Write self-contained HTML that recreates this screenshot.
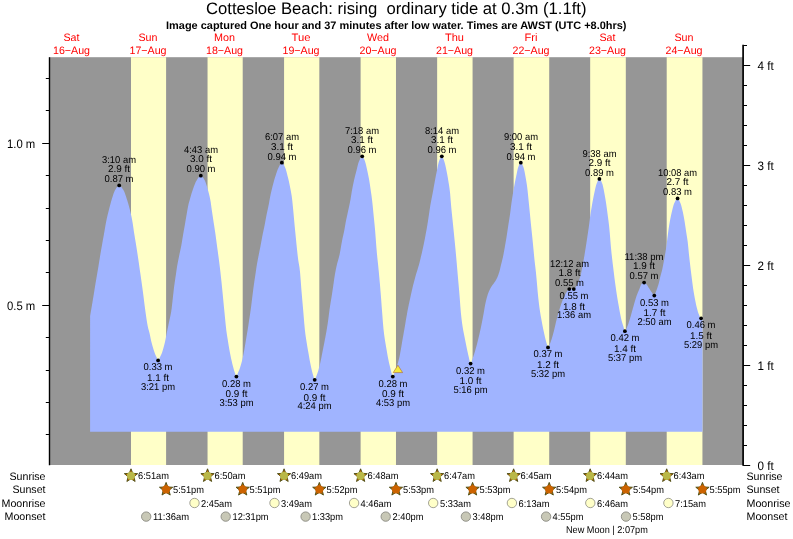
<!DOCTYPE html><html><head><meta charset="utf-8"><title>Cottesloe Beach tide</title>
<style>html,body{margin:0;padding:0;background:#fff}svg{display:block}text{font-family:"Liberation Sans",sans-serif;fill:#000;white-space:pre;text-rendering:geometricPrecision}.d{fill:#ff0000}.b{font-weight:bold}</style></head><body>
<svg width="793" height="539" viewBox="0 0 793 539">
<rect width="793" height="539" fill="#fff"/>
<rect x="49" y="57.2" width="694" height="407.8" fill="#969696"/>
<rect x="131.00" y="57.2" width="35.10" height="407.8" fill="#ffffc8"/>
<rect x="207.54" y="57.2" width="35.16" height="407.8" fill="#ffffc8"/>
<rect x="284.07" y="57.2" width="35.26" height="407.8" fill="#ffffc8"/>
<rect x="360.61" y="57.2" width="35.37" height="407.8" fill="#ffffc8"/>
<rect x="437.15" y="57.2" width="35.42" height="407.8" fill="#ffffc8"/>
<rect x="513.63" y="57.2" width="35.58" height="407.8" fill="#ffffc8"/>
<rect x="590.17" y="57.2" width="35.64" height="407.8" fill="#ffffc8"/>
<rect x="666.70" y="57.2" width="35.74" height="407.8" fill="#ffffc8"/>
<path d="M90.1,431.7 L90.10,316.00 L90.70,312.52 L91.30,309.00 L91.90,305.46 L92.50,301.89 L93.10,298.30 L93.70,294.64 L94.30,290.94 L94.90,287.25 L95.50,283.60 L96.10,280.03 L96.70,276.50 L97.30,273.00 L97.90,269.47 L98.50,265.90 L99.10,262.22 L99.70,258.49 L100.30,254.79 L100.90,251.17 L101.50,247.71 L102.10,244.38 L102.70,241.11 L103.30,237.86 L103.90,234.56 L104.50,231.12 L105.10,227.56 L105.70,224.08 L106.30,220.89 L106.90,218.08 L107.50,215.50 L108.10,213.07 L108.70,210.70 L109.30,208.32 L109.90,205.96 L110.50,203.69 L111.10,201.54 L111.70,199.55 L112.30,197.59 L112.90,195.66 L113.50,193.84 L114.10,192.21 L114.70,190.83 L115.30,189.77 L115.90,188.80 L116.50,187.86 L117.10,187.01 L117.70,186.30 L118.30,185.77 L118.90,185.47 L119.50,185.45 L120.10,185.71 L120.70,186.21 L121.30,186.90 L121.90,187.74 L122.50,188.66 L123.10,189.62 L123.70,190.62 L124.30,191.86 L124.90,193.35 L125.50,195.01 L126.10,196.80 L126.70,198.65 L127.30,200.51 L127.90,202.46 L128.50,204.55 L129.10,206.76 L129.70,209.09 L130.30,211.53 L130.90,214.09 L131.50,216.85 L132.10,219.87 L132.70,223.33 L133.30,227.29 L133.90,231.38 L134.50,235.25 L135.10,238.93 L135.70,242.56 L136.30,246.22 L136.90,250.00 L137.50,253.93 L138.10,257.97 L138.70,262.08 L139.30,266.23 L139.90,270.39 L140.50,274.54 L141.10,278.71 L141.70,282.92 L142.30,287.23 L142.90,291.65 L143.50,296.36 L144.10,301.24 L144.70,306.04 L145.30,310.50 L145.90,314.74 L146.50,318.88 L147.10,322.72 L147.70,326.04 L148.30,328.63 L148.90,330.71 L149.50,333.04 L150.10,335.83 L150.70,338.75 L151.30,341.48 L151.90,343.84 L152.50,346.05 L153.10,348.12 L153.70,350.05 L154.30,351.84 L154.90,353.47 L155.50,354.95 L156.10,356.32 L156.70,357.62 L157.30,359.14 L157.90,360.26 L158.50,360.16 L159.10,359.13 L159.70,357.81 L160.30,356.61 L160.90,355.35 L161.50,353.96 L162.10,352.40 L162.70,350.61 L163.30,348.59 L163.90,346.37 L164.50,343.97 L165.10,341.42 L165.70,338.47 L166.30,335.30 L166.90,332.20 L167.50,329.28 L168.10,326.40 L168.70,323.54 L169.30,320.70 L169.90,318.07 L170.50,315.35 L171.10,312.21 L171.70,308.10 L172.30,302.77 L172.90,297.16 L173.50,291.93 L174.10,286.85 L174.70,282.44 L175.30,278.48 L175.90,274.52 L176.50,270.32 L177.10,266.30 L177.70,262.90 L178.30,259.91 L178.90,257.00 L179.50,254.12 L180.10,251.32 L180.70,248.46 L181.30,245.40 L181.90,241.96 L182.50,238.29 L183.10,234.73 L183.70,231.36 L184.30,228.03 L184.90,224.62 L185.50,221.04 L186.10,217.43 L186.70,213.95 L187.30,210.46 L187.90,207.16 L188.50,204.36 L189.10,202.07 L189.70,199.94 L190.30,197.79 L190.90,195.66 L191.50,193.61 L192.10,191.68 L192.70,189.92 L193.30,188.22 L193.90,186.56 L194.50,184.97 L195.10,183.47 L195.70,182.12 L196.30,180.93 L196.90,179.95 L197.50,179.02 L198.10,178.11 L198.70,177.27 L199.30,176.55 L199.90,176.02 L200.50,175.74 L201.10,175.75 L201.70,176.06 L202.30,176.62 L202.90,177.38 L203.50,178.28 L204.10,179.26 L204.70,180.27 L205.30,181.54 L205.90,183.15 L206.50,185.01 L207.10,187.03 L207.70,189.14 L208.30,191.27 L208.90,193.50 L209.50,195.97 L210.10,198.75 L210.70,202.09 L211.30,206.38 L211.90,210.68 L212.50,214.69 L213.10,218.67 L213.70,222.64 L214.30,226.55 L214.90,230.51 L215.50,234.60 L216.10,238.94 L216.70,243.48 L217.30,248.00 L217.90,252.37 L218.50,256.74 L219.10,261.30 L219.70,266.01 L220.30,271.00 L220.90,276.38 L221.50,282.07 L222.10,287.94 L222.70,293.91 L223.30,300.14 L223.90,306.41 L224.50,312.53 L225.10,318.79 L225.70,324.87 L226.30,330.22 L226.90,334.48 L227.50,338.16 L228.10,341.90 L228.70,345.66 L229.30,349.20 L229.90,352.45 L230.50,355.52 L231.10,358.39 L231.70,361.08 L232.30,363.65 L232.90,366.08 L233.50,368.34 L234.10,370.41 L234.70,372.27 L235.30,373.99 L235.90,375.83 L236.50,376.55 L237.10,375.25 L237.70,373.40 L238.30,372.02 L238.90,370.66 L239.50,369.13 L240.10,367.40 L240.70,365.52 L241.30,363.49 L241.90,361.28 L242.50,358.88 L243.10,356.11 L243.70,353.01 L244.30,349.75 L244.90,346.35 L245.50,342.73 L246.10,339.10 L246.70,335.58 L247.30,332.06 L247.90,328.37 L248.50,324.41 L249.10,320.34 L249.70,316.38 L250.30,312.46 L250.90,308.26 L251.50,303.56 L252.10,298.62 L252.70,293.82 L253.30,289.07 L253.90,284.58 L254.50,280.49 L255.10,276.54 L255.70,272.45 L256.30,268.30 L256.90,264.51 L257.50,261.17 L258.10,258.04 L258.70,254.94 L259.30,251.93 L259.90,248.95 L260.50,245.92 L261.10,242.75 L261.70,239.51 L262.30,236.32 L262.90,233.33 L263.50,230.48 L264.10,227.65 L264.70,224.69 L265.30,221.50 L265.90,218.23 L266.50,215.10 L267.10,212.24 L267.70,209.53 L268.30,206.74 L268.90,203.65 L269.50,200.14 L270.10,196.90 L270.70,194.06 L271.30,191.41 L271.90,188.91 L272.50,186.51 L273.10,184.19 L273.70,181.95 L274.30,179.83 L274.90,177.83 L275.50,175.95 L276.10,174.09 L276.70,172.29 L277.30,170.59 L277.90,169.04 L278.50,167.69 L279.10,166.53 L279.70,165.35 L280.30,164.25 L280.90,163.36 L281.50,162.83 L282.10,162.79 L282.70,163.23 L283.30,164.04 L283.90,165.10 L284.50,166.29 L285.10,167.53 L285.70,169.12 L286.30,171.08 L286.90,173.29 L287.50,175.63 L288.10,178.00 L288.70,180.57 L289.30,183.35 L289.90,186.29 L290.50,189.30 L291.10,192.41 L291.70,196.02 L292.30,200.72 L292.90,206.79 L293.50,213.11 L294.10,219.75 L294.70,226.24 L295.30,232.29 L295.90,238.36 L296.50,244.43 L297.10,250.23 L297.70,255.76 L298.30,260.40 L298.90,263.88 L299.50,267.44 L300.10,272.63 L300.70,280.22 L301.30,288.40 L301.90,295.62 L302.50,302.52 L303.10,309.36 L303.70,316.49 L304.30,323.77 L304.90,330.11 L305.50,334.91 L306.10,338.93 L306.70,342.74 L307.30,346.40 L307.90,349.90 L308.50,353.36 L309.10,356.84 L309.70,360.20 L310.30,363.31 L310.90,366.27 L311.50,369.07 L312.10,371.62 L312.70,373.83 L313.30,375.77 L313.90,377.88 L314.50,379.71 L315.10,379.36 L315.70,377.80 L316.30,376.16 L316.90,374.65 L317.50,373.00 L318.10,371.13 L318.70,369.06 L319.30,366.82 L319.90,364.42 L320.50,361.86 L321.10,358.98 L321.70,355.85 L322.30,352.71 L322.90,349.69 L323.50,346.68 L324.10,343.64 L324.70,340.56 L325.30,337.50 L325.90,334.36 L326.50,331.00 L327.10,327.37 L327.70,323.46 L328.30,319.27 L328.90,314.48 L329.50,309.72 L330.10,305.70 L330.70,302.06 L331.30,298.50 L331.90,294.75 L332.50,290.74 L333.10,286.65 L333.70,282.53 L334.30,278.36 L334.90,274.62 L335.50,271.33 L336.10,268.31 L336.70,265.54 L337.30,263.07 L337.90,260.90 L338.50,258.82 L339.10,256.61 L339.70,254.03 L340.30,250.87 L340.90,247.30 L341.50,243.70 L342.10,240.40 L342.70,237.56 L343.30,234.92 L343.90,232.24 L344.50,229.25 L345.10,225.84 L345.70,222.35 L346.30,219.20 L346.90,216.39 L347.50,213.72 L348.10,211.03 L348.70,208.24 L349.30,205.48 L349.90,202.60 L350.50,199.44 L351.10,195.72 L351.70,191.97 L352.30,188.68 L352.90,185.58 L353.50,182.68 L354.10,179.97 L354.70,177.45 L355.30,175.05 L355.90,172.73 L356.50,170.42 L357.10,168.00 L357.70,165.58 L358.30,163.37 L358.90,161.57 L359.50,160.21 L360.10,158.91 L360.70,157.75 L361.30,156.85 L361.90,156.33 L362.50,156.35 L363.10,157.01 L363.70,158.15 L364.30,159.58 L364.90,161.10 L365.50,162.94 L366.10,165.31 L366.70,167.98 L367.30,170.75 L367.90,173.50 L368.50,176.43 L369.10,179.60 L369.70,183.13 L370.30,187.16 L370.90,191.40 L371.50,195.61 L372.10,200.16 L372.70,205.71 L373.30,211.99 L373.90,218.07 L374.50,223.93 L375.10,230.30 L375.70,238.07 L376.30,246.32 L376.90,253.25 L377.50,259.13 L378.10,264.74 L378.70,270.75 L379.30,277.17 L379.90,283.86 L380.50,290.90 L381.10,298.60 L381.70,306.63 L382.30,314.35 L382.90,322.14 L383.50,329.08 L384.10,334.28 L384.70,338.44 L385.30,342.26 L385.90,345.77 L386.50,349.20 L387.10,352.70 L387.70,356.13 L388.30,359.30 L388.90,362.15 L389.50,364.79 L390.10,367.32 L390.70,369.82 L391.30,372.32 L391.90,374.45 L392.50,376.28 L393.10,376.31 L393.70,374.81 L394.30,373.16 L394.90,371.73 L395.50,370.21 L396.10,368.56 L396.70,366.82 L397.30,364.99 L397.90,363.01 L398.50,360.86 L399.10,358.46 L399.70,355.64 L400.30,352.48 L400.90,349.20 L401.50,345.73 L402.10,342.08 L402.70,338.53 L403.30,335.15 L403.90,331.82 L404.50,328.42 L405.10,324.89 L405.70,321.32 L406.30,317.85 L406.90,314.43 L407.50,311.11 L408.10,307.99 L408.70,305.04 L409.30,302.22 L409.90,299.47 L410.50,296.76 L411.10,294.04 L411.70,291.33 L412.30,288.67 L412.90,286.12 L413.50,283.70 L414.10,281.39 L414.70,279.15 L415.30,276.97 L415.90,274.85 L416.50,272.84 L417.10,270.91 L417.70,268.99 L418.30,267.02 L418.90,264.92 L419.50,262.66 L420.10,260.29 L420.70,257.83 L421.30,255.31 L421.90,252.71 L422.50,250.04 L423.10,247.28 L423.70,244.44 L424.30,241.50 L424.90,238.45 L425.50,235.30 L426.10,232.07 L426.70,228.72 L427.30,225.20 L427.90,221.40 L428.50,217.41 L429.10,213.45 L429.70,209.42 L430.30,205.59 L430.90,202.20 L431.50,199.07 L432.10,196.06 L432.70,193.00 L433.30,189.74 L433.90,186.33 L434.50,182.93 L435.10,179.71 L435.70,176.60 L436.30,173.60 L436.90,170.72 L437.50,167.75 L438.10,164.84 L438.70,162.35 L439.30,160.58 L439.90,159.04 L440.50,157.69 L441.10,156.70 L441.70,156.27 L442.30,156.60 L442.90,157.66 L443.50,159.16 L444.10,160.83 L444.70,162.68 L445.30,165.07 L445.90,167.81 L446.50,170.71 L447.10,173.75 L447.70,177.11 L448.30,180.69 L448.90,184.32 L449.50,188.24 L450.10,193.36 L450.70,200.79 L451.30,207.65 L451.90,213.63 L452.50,219.44 L453.10,225.20 L453.70,231.24 L454.30,237.31 L454.90,243.35 L455.50,249.54 L456.10,255.91 L456.70,262.64 L457.30,269.66 L457.90,276.72 L458.50,283.60 L459.10,290.32 L459.70,297.52 L460.30,305.72 L460.90,313.00 L461.50,318.59 L462.10,323.35 L462.70,327.35 L463.30,330.69 L463.90,333.69 L464.50,336.72 L465.10,339.81 L465.70,342.86 L466.30,345.82 L466.90,348.67 L467.50,351.43 L468.10,354.15 L468.70,356.86 L469.30,359.62 L469.90,361.94 L470.50,363.57 L471.10,362.86 L471.70,360.97 L472.30,359.38 L472.90,357.80 L473.50,356.10 L474.10,354.26 L474.70,352.30 L475.30,350.25 L475.90,348.12 L476.50,345.93 L477.10,343.63 L477.70,341.21 L478.30,338.72 L478.90,336.20 L479.50,333.67 L480.10,331.10 L480.70,328.43 L481.30,325.62 L481.90,322.60 L482.50,319.43 L483.10,316.17 L483.70,312.90 L484.30,309.43 L484.90,306.03 L485.50,303.07 L486.10,300.43 L486.70,298.07 L487.30,295.99 L487.90,294.11 L488.50,292.44 L489.10,291.00 L489.70,289.72 L490.30,288.54 L490.90,287.47 L491.50,286.48 L492.10,285.59 L492.70,284.79 L493.30,284.01 L493.90,283.22 L494.50,282.35 L495.10,281.42 L495.70,280.47 L496.30,279.45 L496.90,278.33 L497.50,277.06 L498.10,275.57 L498.70,273.87 L499.30,271.96 L499.90,269.64 L500.50,267.04 L501.10,264.50 L501.70,262.20 L502.30,259.86 L502.90,257.16 L503.50,254.16 L504.10,250.96 L504.70,247.64 L505.30,244.27 L505.90,240.80 L506.50,237.17 L507.10,233.35 L507.70,229.25 L508.30,225.20 L508.90,221.46 L509.50,217.76 L510.10,213.65 L510.70,208.89 L511.30,204.27 L511.90,200.05 L512.50,196.13 L513.10,192.45 L513.70,188.97 L514.30,185.68 L514.90,182.56 L515.50,179.59 L516.10,176.72 L516.70,173.74 L517.30,170.81 L517.90,168.32 L518.50,166.60 L519.10,165.12 L519.70,163.86 L520.30,163.00 L520.90,162.75 L521.50,163.17 L522.10,164.10 L522.70,165.39 L523.30,166.85 L523.90,168.70 L524.50,171.36 L525.10,174.49 L525.70,177.74 L526.30,181.19 L526.90,185.11 L527.50,189.77 L528.10,195.45 L528.70,201.41 L529.30,207.53 L529.90,213.59 L530.50,219.67 L531.10,225.69 L531.70,231.44 L532.30,237.28 L532.90,243.35 L533.50,249.62 L534.10,256.01 L534.70,261.74 L535.30,266.82 L535.90,272.05 L536.50,278.20 L537.10,285.05 L537.70,291.89 L538.30,298.00 L538.90,303.25 L539.50,307.96 L540.10,312.09 L540.70,315.74 L541.30,319.10 L541.90,322.35 L542.50,325.44 L543.10,328.40 L543.70,331.24 L544.30,334.00 L544.90,336.67 L545.50,339.20 L546.10,341.57 L546.70,343.76 L547.30,345.77 L547.90,347.34 L548.50,347.06 L549.10,345.83 L549.70,344.40 L550.30,342.95 L550.90,341.29 L551.50,339.48 L552.10,337.50 L552.70,335.39 L553.30,333.17 L553.90,330.88 L554.50,328.49 L555.10,325.91 L555.70,323.30 L556.30,320.79 L556.90,318.47 L557.50,316.23 L558.10,314.07 L558.70,311.99 L559.30,310.00 L559.90,308.07 L560.50,306.19 L561.10,304.37 L561.70,302.64 L562.30,301.02 L562.90,299.51 L563.50,298.05 L564.10,296.65 L564.70,295.34 L565.30,294.15 L565.90,293.11 L566.50,292.19 L567.10,291.24 L567.70,290.36 L568.30,289.65 L568.90,289.20 L569.50,289.10 L570.10,289.10 L570.70,289.10 L571.30,289.10 L571.90,289.10 L572.50,289.10 L573.10,289.10 L573.70,289.10 L574.30,288.94 L574.90,288.40 L575.50,287.57 L576.10,286.54 L576.70,285.42 L577.30,284.30 L577.90,283.11 L578.50,281.71 L579.10,280.13 L579.70,278.35 L580.30,276.39 L580.90,274.14 L581.50,271.35 L582.10,268.24 L582.70,265.06 L583.30,261.87 L583.90,258.51 L584.50,255.00 L585.10,251.27 L585.70,247.46 L586.30,243.64 L586.90,239.79 L587.50,235.87 L588.10,231.85 L588.70,227.71 L589.30,223.25 L589.90,218.53 L590.50,214.08 L591.10,210.21 L591.70,206.65 L592.30,203.30 L592.90,200.08 L593.50,197.00 L594.10,194.11 L594.70,191.36 L595.30,188.57 L595.90,185.99 L596.50,183.89 L597.10,182.41 L597.70,181.08 L598.30,179.95 L598.90,179.18 L599.50,178.95 L600.10,179.31 L600.70,180.14 L601.30,181.29 L601.90,182.64 L602.50,184.25 L603.10,186.66 L603.70,189.58 L604.30,192.69 L604.90,195.90 L605.50,199.47 L606.10,203.30 L606.70,207.44 L607.30,211.89 L607.90,216.40 L608.50,220.99 L609.10,226.07 L609.70,232.30 L610.30,239.61 L610.90,246.81 L611.50,252.90 L612.10,258.33 L612.70,263.41 L613.30,268.35 L613.90,273.30 L614.50,278.14 L615.10,282.76 L615.70,287.12 L616.30,291.27 L616.90,295.20 L617.50,298.92 L618.10,302.46 L618.70,305.85 L619.30,309.14 L619.90,312.41 L620.50,315.57 L621.10,318.48 L621.70,320.99 L622.30,323.08 L622.90,324.94 L623.50,326.80 L624.10,329.17 L624.70,331.05 L625.30,331.00 L625.90,330.01 L626.50,328.56 L627.10,327.04 L627.70,325.56 L628.30,323.88 L628.90,322.06 L629.50,320.19 L630.10,318.21 L630.70,316.13 L631.30,313.97 L631.90,311.80 L632.50,309.64 L633.10,307.56 L633.70,305.46 L634.30,303.34 L634.90,301.23 L635.50,299.18 L636.10,297.25 L636.70,295.48 L637.30,293.90 L637.90,292.46 L638.50,291.10 L639.10,289.73 L639.70,288.20 L640.30,286.52 L640.90,285.01 L641.50,284.00 L642.10,283.50 L642.70,283.08 L643.30,282.78 L643.90,282.63 L644.50,282.69 L645.10,283.04 L645.70,283.57 L646.30,284.19 L646.90,284.84 L647.50,285.68 L648.10,286.66 L648.70,287.66 L649.30,288.61 L649.90,289.54 L650.50,290.47 L651.10,291.38 L651.70,292.24 L652.30,293.21 L652.90,294.22 L653.50,295.07 L654.10,295.54 L654.70,295.21 L655.30,293.65 L655.90,291.77 L656.50,290.18 L657.10,288.55 L657.70,286.81 L658.30,284.92 L658.90,282.77 L659.50,280.20 L660.10,277.54 L660.70,275.16 L661.30,273.05 L661.90,270.83 L662.50,268.20 L663.10,265.21 L663.70,262.00 L664.30,258.67 L664.90,255.34 L665.50,251.97 L666.10,248.32 L666.70,244.04 L667.30,239.04 L667.90,234.14 L668.50,229.81 L669.10,225.75 L669.70,222.15 L670.30,218.89 L670.90,215.90 L671.50,213.20 L672.10,210.64 L672.70,208.17 L673.30,205.92 L673.90,204.06 L674.50,202.68 L675.10,201.45 L675.70,200.32 L676.30,199.36 L676.90,198.69 L677.50,198.39 L678.10,198.60 L678.70,199.37 L679.30,200.54 L679.90,201.91 L680.50,203.34 L681.10,205.07 L681.70,207.21 L682.30,209.65 L682.90,212.29 L683.50,215.15 L684.10,218.47 L684.70,222.07 L685.30,225.88 L685.90,230.01 L686.50,234.04 L687.10,237.64 L687.70,241.79 L688.30,247.51 L688.90,253.81 L689.50,259.37 L690.10,264.49 L690.70,269.40 L691.30,274.20 L691.90,279.04 L692.50,283.77 L693.10,288.13 L693.70,291.95 L694.30,295.49 L694.90,298.80 L695.50,301.86 L696.10,304.67 L696.70,307.21 L697.30,309.57 L697.90,311.72 L698.50,313.55 L699.10,315.01 L699.70,316.44 L700.30,317.61 L700.90,318.23 L701.50,318.24 L702.10,318.03 L702.55,317.60 L702.55,431.7 Z" fill="#a0b4ff"/>
<g stroke="#000" fill="none">
<path d="M49.5,57.2V465.3" stroke-width="1.4"/>
<path d="M743.1,44.8V465.8" stroke-width="1.7"/>
</g><g stroke="#000" stroke-width="1" fill="none">
<path d="M45.8,434.5H49.5"/>
<path d="M45.8,402.5H49.5"/>
<path d="M45.8,370.5H49.5"/>
<path d="M45.8,337.5H49.5"/>
<path d="M42.2,305.5H49.5"/>
<path d="M45.8,272.5H49.5"/>
<path d="M45.8,240.5H49.5"/>
<path d="M45.8,208.5H49.5"/>
<path d="M45.8,175.5H49.5"/>
<path d="M42.2,143.5H49.5"/>
<path d="M45.8,110.5H49.5"/>
<path d="M45.8,78.5H49.5"/>
<path d="M743.2,465.5H750.2"/>
<path d="M743.2,445.5H747"/>
<path d="M743.2,425.5H747"/>
<path d="M743.2,405.5H747"/>
<path d="M743.2,385.5H747"/>
<path d="M743.2,365.5H750.2"/>
<path d="M743.2,345.5H747"/>
<path d="M743.2,325.5H747"/>
<path d="M743.2,305.5H747"/>
<path d="M743.2,285.5H747"/>
<path d="M743.2,265.5H750.2"/>
<path d="M743.2,245.5H747"/>
<path d="M743.2,225.5H747"/>
<path d="M743.2,205.5H747"/>
<path d="M743.2,185.5H747"/>
<path d="M743.2,165.5H750.2"/>
<path d="M743.2,145.5H747"/>
<path d="M743.2,125.5H747"/>
<path d="M743.2,105.5H747"/>
<path d="M743.2,85.5H747"/>
<path d="M743.2,65.5H750.2"/>
<path d="M743.2,45.5H747"/>
</g>
<text x="206.0" y="14.0" font-size="16.67" textLength="380.5" lengthAdjust="spacingAndGlyphs" xml:space="preserve">Cottesloe Beach: rising  ordinary tide at 0.3m (1.1ft)</text>
<text class="b" x="166.0" y="29.0" font-size="10.9" textLength="460.5" lengthAdjust="spacingAndGlyphs">Image captured One hour and 37 minutes after low water. Times are AWST (UTC +8.0hrs)</text>
<text class="d" x="63.5" y="41.0" font-size="10.8" textLength="16.0" lengthAdjust="spacingAndGlyphs">Sat</text>
<text class="d" x="53.0" y="54.0" font-size="10.8" textLength="37.0" lengthAdjust="spacingAndGlyphs">16−Aug</text>
<text class="d" x="138.5" y="41.0" font-size="10.8" textLength="19.0" lengthAdjust="spacingAndGlyphs">Sun</text>
<text class="d" x="129.5" y="54.0" font-size="10.8" textLength="37.0" lengthAdjust="spacingAndGlyphs">17−Aug</text>
<text class="d" x="214.0" y="41.0" font-size="10.8" textLength="21.0" lengthAdjust="spacingAndGlyphs">Mon</text>
<text class="d" x="206.0" y="54.0" font-size="10.8" textLength="37.0" lengthAdjust="spacingAndGlyphs">18−Aug</text>
<text class="d" x="291.5" y="41.0" font-size="10.8" textLength="19.0" lengthAdjust="spacingAndGlyphs">Tue</text>
<text class="d" x="282.5" y="54.0" font-size="10.8" textLength="37.0" lengthAdjust="spacingAndGlyphs">19−Aug</text>
<text class="d" x="367.0" y="41.0" font-size="10.8" textLength="22.0" lengthAdjust="spacingAndGlyphs">Wed</text>
<text class="d" x="359.5" y="54.0" font-size="10.8" textLength="37.0" lengthAdjust="spacingAndGlyphs">20−Aug</text>
<text class="d" x="445.0" y="41.0" font-size="10.8" textLength="19.0" lengthAdjust="spacingAndGlyphs">Thu</text>
<text class="d" x="436.0" y="54.0" font-size="10.8" textLength="37.0" lengthAdjust="spacingAndGlyphs">21−Aug</text>
<text class="d" x="524.5" y="41.0" font-size="10.8" textLength="13.0" lengthAdjust="spacingAndGlyphs">Fri</text>
<text class="d" x="512.5" y="54.0" font-size="10.8" textLength="37.0" lengthAdjust="spacingAndGlyphs">22−Aug</text>
<text class="d" x="599.5" y="41.0" font-size="10.8" textLength="16.0" lengthAdjust="spacingAndGlyphs">Sat</text>
<text class="d" x="589.0" y="54.0" font-size="10.8" textLength="37.0" lengthAdjust="spacingAndGlyphs">23−Aug</text>
<text class="d" x="674.5" y="41.0" font-size="10.8" textLength="19.0" lengthAdjust="spacingAndGlyphs">Sun</text>
<text class="d" x="665.5" y="54.0" font-size="10.8" textLength="37.0" lengthAdjust="spacingAndGlyphs">24−Aug</text>
<text x="7.0" y="148.0" font-size="12.2" textLength="28.3" lengthAdjust="spacingAndGlyphs">1.0 m</text>
<text x="7.0" y="310.0" font-size="12.2" textLength="28.3" lengthAdjust="spacingAndGlyphs">0.5 m</text>
<text x="757.5" y="470.0" font-size="12.2" textLength="16.2" lengthAdjust="spacingAndGlyphs">0 ft</text>
<text x="757.5" y="370.0" font-size="12.2" textLength="16.2" lengthAdjust="spacingAndGlyphs">1 ft</text>
<text x="757.5" y="270.0" font-size="12.2" textLength="16.2" lengthAdjust="spacingAndGlyphs">2 ft</text>
<text x="757.5" y="170.0" font-size="12.2" textLength="16.2" lengthAdjust="spacingAndGlyphs">3 ft</text>
<text x="757.5" y="70.0" font-size="12.2" textLength="16.2" lengthAdjust="spacingAndGlyphs">4 ft</text>
<text x="9.5" y="480.0" font-size="10.8" textLength="36.0" lengthAdjust="spacingAndGlyphs">Sunrise</text>
<text x="746.5" y="480.0" font-size="10.8" textLength="36.0" lengthAdjust="spacingAndGlyphs">Sunrise</text>
<text x="12.5" y="493.0" font-size="10.8" textLength="33.0" lengthAdjust="spacingAndGlyphs">Sunset</text>
<text x="746.5" y="493.0" font-size="10.8" textLength="33.0" lengthAdjust="spacingAndGlyphs">Sunset</text>
<text x="1.5" y="507.0" font-size="10.8" textLength="44.0" lengthAdjust="spacingAndGlyphs">Moonrise</text>
<text x="746.5" y="507.0" font-size="10.8" textLength="44.0" lengthAdjust="spacingAndGlyphs">Moonrise</text>
<text x="4.5" y="520.0" font-size="10.8" textLength="41.0" lengthAdjust="spacingAndGlyphs">Moonset</text>
<text x="746.5" y="520.0" font-size="10.8" textLength="41.0" lengthAdjust="spacingAndGlyphs">Moonset</text>
<text x="102.0" y="163.0" font-size="9.9" textLength="34.0" lengthAdjust="spacingAndGlyphs">3:10 am</text>
<text x="108.0" y="172.0" font-size="9.9" textLength="22.0" lengthAdjust="spacingAndGlyphs">2.9 ft</text>
<text x="104.5" y="182.0" font-size="9.9" textLength="29.0" lengthAdjust="spacingAndGlyphs">0.87 m</text>
<text x="143.5" y="370.0" font-size="9.9" textLength="29.0" lengthAdjust="spacingAndGlyphs">0.33 m</text>
<text x="147.0" y="381.0" font-size="9.9" textLength="22.0" lengthAdjust="spacingAndGlyphs">1.1 ft</text>
<text x="141.0" y="390.0" font-size="9.9" textLength="34.0" lengthAdjust="spacingAndGlyphs">3:21 pm</text>
<text x="184.0" y="153.0" font-size="9.9" textLength="34.0" lengthAdjust="spacingAndGlyphs">4:43 am</text>
<text x="190.0" y="162.0" font-size="9.9" textLength="22.0" lengthAdjust="spacingAndGlyphs">3.0 ft</text>
<text x="186.5" y="172.0" font-size="9.9" textLength="29.0" lengthAdjust="spacingAndGlyphs">0.90 m</text>
<text x="222.0" y="387.0" font-size="9.9" textLength="29.0" lengthAdjust="spacingAndGlyphs">0.28 m</text>
<text x="225.5" y="397.0" font-size="9.9" textLength="22.0" lengthAdjust="spacingAndGlyphs">0.9 ft</text>
<text x="219.5" y="406.0" font-size="9.9" textLength="34.0" lengthAdjust="spacingAndGlyphs">3:53 pm</text>
<text x="265.0" y="140.0" font-size="9.9" textLength="34.0" lengthAdjust="spacingAndGlyphs">6:07 am</text>
<text x="271.0" y="150.0" font-size="9.9" textLength="22.0" lengthAdjust="spacingAndGlyphs">3.1 ft</text>
<text x="267.5" y="160.0" font-size="9.9" textLength="29.0" lengthAdjust="spacingAndGlyphs">0.94 m</text>
<text x="300.0" y="390.0" font-size="9.9" textLength="29.0" lengthAdjust="spacingAndGlyphs">0.27 m</text>
<text x="303.5" y="401.0" font-size="9.9" textLength="22.0" lengthAdjust="spacingAndGlyphs">0.9 ft</text>
<text x="297.5" y="409.0" font-size="9.9" textLength="34.0" lengthAdjust="spacingAndGlyphs">4:24 pm</text>
<text x="345.0" y="134.0" font-size="9.9" textLength="34.0" lengthAdjust="spacingAndGlyphs">7:18 am</text>
<text x="351.0" y="143.0" font-size="9.9" textLength="22.0" lengthAdjust="spacingAndGlyphs">3.1 ft</text>
<text x="347.5" y="153.0" font-size="9.9" textLength="29.0" lengthAdjust="spacingAndGlyphs">0.96 m</text>
<text x="378.5" y="387.0" font-size="9.9" textLength="29.0" lengthAdjust="spacingAndGlyphs">0.28 m</text>
<text x="382.0" y="397.0" font-size="9.9" textLength="22.0" lengthAdjust="spacingAndGlyphs">0.9 ft</text>
<text x="376.0" y="406.0" font-size="9.9" textLength="34.0" lengthAdjust="spacingAndGlyphs">4:53 pm</text>
<text x="425.0" y="134.0" font-size="9.9" textLength="34.0" lengthAdjust="spacingAndGlyphs">8:14 am</text>
<text x="431.0" y="143.0" font-size="9.9" textLength="22.0" lengthAdjust="spacingAndGlyphs">3.1 ft</text>
<text x="427.5" y="153.0" font-size="9.9" textLength="29.0" lengthAdjust="spacingAndGlyphs">0.96 m</text>
<text x="456.0" y="374.0" font-size="9.9" textLength="29.0" lengthAdjust="spacingAndGlyphs">0.32 m</text>
<text x="459.5" y="384.0" font-size="9.9" textLength="22.0" lengthAdjust="spacingAndGlyphs">1.0 ft</text>
<text x="453.5" y="393.0" font-size="9.9" textLength="34.0" lengthAdjust="spacingAndGlyphs">5:16 pm</text>
<text x="504.0" y="140.0" font-size="9.9" textLength="34.0" lengthAdjust="spacingAndGlyphs">9:00 am</text>
<text x="510.0" y="150.0" font-size="9.9" textLength="22.0" lengthAdjust="spacingAndGlyphs">3.1 ft</text>
<text x="506.5" y="160.0" font-size="9.9" textLength="29.0" lengthAdjust="spacingAndGlyphs">0.94 m</text>
<text x="533.5" y="357.0" font-size="9.9" textLength="29.0" lengthAdjust="spacingAndGlyphs">0.37 m</text>
<text x="537.0" y="368.0" font-size="9.9" textLength="22.0" lengthAdjust="spacingAndGlyphs">1.2 ft</text>
<text x="531.0" y="377.0" font-size="9.9" textLength="34.0" lengthAdjust="spacingAndGlyphs">5:32 pm</text>
<text x="550.0" y="267.0" font-size="9.9" textLength="39.0" lengthAdjust="spacingAndGlyphs">12:12 am</text>
<text x="558.5" y="276.0" font-size="9.9" textLength="22.0" lengthAdjust="spacingAndGlyphs">1.8 ft</text>
<text x="555.0" y="286.0" font-size="9.9" textLength="29.0" lengthAdjust="spacingAndGlyphs">0.55 m</text>
<text x="559.5" y="299.0" font-size="9.9" textLength="29.0" lengthAdjust="spacingAndGlyphs">0.55 m</text>
<text x="563.0" y="310.0" font-size="9.9" textLength="22.0" lengthAdjust="spacingAndGlyphs">1.8 ft</text>
<text x="557.0" y="318.0" font-size="9.9" textLength="34.0" lengthAdjust="spacingAndGlyphs">1:36 am</text>
<text x="582.5" y="157.0" font-size="9.9" textLength="34.0" lengthAdjust="spacingAndGlyphs">9:38 am</text>
<text x="588.5" y="166.0" font-size="9.9" textLength="22.0" lengthAdjust="spacingAndGlyphs">2.9 ft</text>
<text x="585.0" y="176.0" font-size="9.9" textLength="29.0" lengthAdjust="spacingAndGlyphs">0.89 m</text>
<text x="610.5" y="341.0" font-size="9.9" textLength="29.0" lengthAdjust="spacingAndGlyphs">0.42 m</text>
<text x="614.0" y="352.0" font-size="9.9" textLength="22.0" lengthAdjust="spacingAndGlyphs">1.4 ft</text>
<text x="608.0" y="361.0" font-size="9.9" textLength="34.0" lengthAdjust="spacingAndGlyphs">5:37 pm</text>
<text x="624.5" y="260.0" font-size="9.9" textLength="39.0" lengthAdjust="spacingAndGlyphs">11:38 pm</text>
<text x="633.0" y="269.0" font-size="9.9" textLength="22.0" lengthAdjust="spacingAndGlyphs">1.9 ft</text>
<text x="629.5" y="279.0" font-size="9.9" textLength="29.0" lengthAdjust="spacingAndGlyphs">0.57 m</text>
<text x="640.0" y="306.0" font-size="9.9" textLength="29.0" lengthAdjust="spacingAndGlyphs">0.53 m</text>
<text x="643.5" y="316.0" font-size="9.9" textLength="22.0" lengthAdjust="spacingAndGlyphs">1.7 ft</text>
<text x="637.5" y="325.0" font-size="9.9" textLength="34.0" lengthAdjust="spacingAndGlyphs">2:50 am</text>
<text x="658.0" y="176.0" font-size="9.9" textLength="39.0" lengthAdjust="spacingAndGlyphs">10:08 am</text>
<text x="666.5" y="185.0" font-size="9.9" textLength="22.0" lengthAdjust="spacingAndGlyphs">2.7 ft</text>
<text x="663.0" y="195.0" font-size="9.9" textLength="29.0" lengthAdjust="spacingAndGlyphs">0.83 m</text>
<text x="686.5" y="328.0" font-size="9.9" textLength="29.0" lengthAdjust="spacingAndGlyphs">0.46 m</text>
<text x="690.0" y="339.0" font-size="9.9" textLength="22.0" lengthAdjust="spacingAndGlyphs">1.5 ft</text>
<text x="684.0" y="348.0" font-size="9.9" textLength="34.0" lengthAdjust="spacingAndGlyphs">5:29 pm</text>
<circle cx="119.2" cy="185.4" r="1.9" fill="#000"/>
<circle cx="158.1" cy="360.4" r="1.9" fill="#000"/>
<circle cx="200.8" cy="175.7" r="1.9" fill="#000"/>
<circle cx="236.4" cy="376.6" r="1.9" fill="#000"/>
<circle cx="281.8" cy="162.7" r="1.9" fill="#000"/>
<circle cx="314.7" cy="379.8" r="1.9" fill="#000"/>
<circle cx="362.2" cy="156.3" r="1.9" fill="#000"/>
<circle cx="392.8" cy="376.6" r="1.9" fill="#000"/>
<circle cx="441.8" cy="156.3" r="1.9" fill="#000"/>
<circle cx="470.6" cy="363.6" r="1.9" fill="#000"/>
<circle cx="520.8" cy="162.7" r="1.9" fill="#000"/>
<circle cx="548.0" cy="347.4" r="1.9" fill="#000"/>
<circle cx="569.3" cy="289.1" r="1.9" fill="#000"/>
<circle cx="573.8" cy="289.1" r="1.9" fill="#000"/>
<circle cx="599.4" cy="178.9" r="1.9" fill="#000"/>
<circle cx="624.9" cy="331.2" r="1.9" fill="#000"/>
<circle cx="644.1" cy="282.6" r="1.9" fill="#000"/>
<circle cx="654.3" cy="295.6" r="1.9" fill="#000"/>
<circle cx="677.6" cy="198.4" r="1.9" fill="#000"/>
<circle cx="701.1" cy="318.3" r="1.9" fill="#000"/>
<path d="M397.9,365.2L402.6,372.6H393.2Z" fill="#f4e93e" stroke="#a85418" stroke-width="0.5"/>
<polygon points="131.00,468.80 132.76,473.37 137.66,473.64 133.85,476.73 135.11,481.46 131.00,478.80 126.89,481.46 128.15,476.73 124.34,473.64 129.24,473.37" fill="#cc6600" stroke="#464a10" stroke-width="0.9"/>
<circle cx="131.0" cy="475.8" r="4.15" fill="#b9b848"/>
<text x="138.0" y="479.0" font-size="9.9" textLength="31.0" lengthAdjust="spacingAndGlyphs">6:51am</text>
<polygon points="207.54,468.80 209.30,473.37 214.19,473.64 210.39,476.73 211.65,481.46 207.54,478.80 203.42,481.46 204.68,476.73 200.88,473.64 205.77,473.37" fill="#cc6600" stroke="#464a10" stroke-width="0.9"/>
<circle cx="207.5" cy="475.8" r="4.15" fill="#b9b848"/>
<text x="214.5" y="479.0" font-size="9.9" textLength="31.0" lengthAdjust="spacingAndGlyphs">6:50am</text>
<polygon points="284.07,468.80 285.84,473.37 290.73,473.64 286.93,476.73 288.19,481.46 284.07,478.80 279.96,481.46 281.22,476.73 277.42,473.64 282.31,473.37" fill="#cc6600" stroke="#464a10" stroke-width="0.9"/>
<circle cx="284.1" cy="475.8" r="4.15" fill="#b9b848"/>
<text x="291.0" y="479.0" font-size="9.9" textLength="31.0" lengthAdjust="spacingAndGlyphs">6:49am</text>
<polygon points="360.61,468.80 362.37,473.37 367.27,473.64 363.46,476.73 364.72,481.46 360.61,478.80 356.50,481.46 357.76,476.73 353.95,473.64 358.85,473.37" fill="#cc6600" stroke="#464a10" stroke-width="0.9"/>
<circle cx="360.6" cy="475.8" r="4.15" fill="#b9b848"/>
<text x="367.5" y="479.0" font-size="9.9" textLength="31.0" lengthAdjust="spacingAndGlyphs">6:48am</text>
<polygon points="437.15,468.80 438.91,473.37 443.80,473.64 440.00,476.73 441.26,481.46 437.15,478.80 433.03,481.46 434.29,476.73 430.49,473.64 435.38,473.37" fill="#cc6600" stroke="#464a10" stroke-width="0.9"/>
<circle cx="437.1" cy="475.8" r="4.15" fill="#b9b848"/>
<text x="444.0" y="479.0" font-size="9.9" textLength="31.0" lengthAdjust="spacingAndGlyphs">6:47am</text>
<polygon points="513.63,468.80 515.39,473.37 520.29,473.64 516.48,476.73 517.75,481.46 513.63,478.80 509.52,481.46 510.78,476.73 506.97,473.64 511.87,473.37" fill="#cc6600" stroke="#464a10" stroke-width="0.9"/>
<circle cx="513.6" cy="475.8" r="4.15" fill="#b9b848"/>
<text x="520.5" y="479.0" font-size="9.9" textLength="31.0" lengthAdjust="spacingAndGlyphs">6:45am</text>
<polygon points="590.17,468.80 591.93,473.37 596.83,473.64 593.02,476.73 594.28,481.46 590.17,478.80 586.05,481.46 587.31,476.73 583.51,473.64 588.40,473.37" fill="#cc6600" stroke="#464a10" stroke-width="0.9"/>
<circle cx="590.2" cy="475.8" r="4.15" fill="#b9b848"/>
<text x="597.0" y="479.0" font-size="9.9" textLength="31.0" lengthAdjust="spacingAndGlyphs">6:44am</text>
<polygon points="666.70,468.80 668.47,473.37 673.36,473.64 669.56,476.73 670.82,481.46 666.70,478.80 662.59,481.46 663.85,476.73 660.05,473.64 664.94,473.37" fill="#cc6600" stroke="#464a10" stroke-width="0.9"/>
<circle cx="666.7" cy="475.8" r="4.15" fill="#b9b848"/>
<text x="673.5" y="479.0" font-size="9.9" textLength="31.0" lengthAdjust="spacingAndGlyphs">6:43am</text>
<polygon points="166.10,482.40 167.87,486.97 172.76,487.24 168.96,490.33 170.22,495.06 166.10,492.40 161.99,495.06 163.25,490.33 159.45,487.24 164.34,486.97" fill="#cc6600" stroke="#464a10" stroke-width="0.9"/>
<circle cx="166.1" cy="489.4" r="4.15" fill="#cc6300"/>
<text x="173.0" y="493.0" font-size="9.9" textLength="31.0" lengthAdjust="spacingAndGlyphs">5:51pm</text>
<polygon points="242.69,482.40 244.46,486.97 249.35,487.24 245.55,490.33 246.81,495.06 242.69,492.40 238.58,495.06 239.84,490.33 236.04,487.24 240.93,486.97" fill="#cc6600" stroke="#464a10" stroke-width="0.9"/>
<circle cx="242.7" cy="489.4" r="4.15" fill="#cc6300"/>
<text x="249.5" y="493.0" font-size="9.9" textLength="31.0" lengthAdjust="spacingAndGlyphs">5:51pm</text>
<polygon points="319.34,482.40 321.10,486.97 325.99,487.24 322.19,490.33 323.45,495.06 319.34,492.40 315.22,495.06 316.48,490.33 312.68,487.24 317.57,486.97" fill="#cc6600" stroke="#464a10" stroke-width="0.9"/>
<circle cx="319.3" cy="489.4" r="4.15" fill="#cc6300"/>
<text x="326.5" y="493.0" font-size="9.9" textLength="31.0" lengthAdjust="spacingAndGlyphs">5:52pm</text>
<polygon points="395.98,482.40 397.74,486.97 402.64,487.24 398.83,490.33 400.09,495.06 395.98,492.40 391.87,495.06 393.13,490.33 389.32,487.24 394.22,486.97" fill="#cc6600" stroke="#464a10" stroke-width="0.9"/>
<circle cx="396.0" cy="489.4" r="4.15" fill="#cc6300"/>
<text x="403.0" y="493.0" font-size="9.9" textLength="31.0" lengthAdjust="spacingAndGlyphs">5:53pm</text>
<polygon points="472.57,482.40 474.33,486.97 479.23,487.24 475.42,490.33 476.68,495.06 472.57,492.40 468.46,495.06 469.72,490.33 465.91,487.24 470.81,486.97" fill="#cc6600" stroke="#464a10" stroke-width="0.9"/>
<circle cx="472.6" cy="489.4" r="4.15" fill="#cc6300"/>
<text x="479.5" y="493.0" font-size="9.9" textLength="31.0" lengthAdjust="spacingAndGlyphs">5:53pm</text>
<polygon points="549.21,482.40 550.98,486.97 555.87,487.24 552.07,490.33 553.33,495.06 549.21,492.40 545.10,495.06 546.36,490.33 542.56,487.24 547.45,486.97" fill="#cc6600" stroke="#464a10" stroke-width="0.9"/>
<circle cx="549.2" cy="489.4" r="4.15" fill="#cc6300"/>
<text x="556.0" y="493.0" font-size="9.9" textLength="31.0" lengthAdjust="spacingAndGlyphs">5:54pm</text>
<polygon points="625.80,482.40 627.57,486.97 632.46,487.24 628.66,490.33 629.92,495.06 625.80,492.40 621.69,495.06 622.95,490.33 619.15,487.24 624.04,486.97" fill="#cc6600" stroke="#464a10" stroke-width="0.9"/>
<circle cx="625.8" cy="489.4" r="4.15" fill="#cc6300"/>
<text x="633.0" y="493.0" font-size="9.9" textLength="31.0" lengthAdjust="spacingAndGlyphs">5:54pm</text>
<polygon points="702.45,482.40 704.21,486.97 709.10,487.24 705.30,490.33 706.56,495.06 702.45,492.40 698.33,495.06 699.59,490.33 695.79,487.24 700.68,486.97" fill="#cc6600" stroke="#464a10" stroke-width="0.9"/>
<circle cx="702.4" cy="489.4" r="4.15" fill="#cc6300"/>
<text x="709.5" y="493.0" font-size="9.9" textLength="31.0" lengthAdjust="spacingAndGlyphs">5:55pm</text>
<circle cx="194.5" cy="503" r="4.7" fill="#ffffc8" stroke="#8c8c80" stroke-width="0.8"/>
<text x="201.0" y="507.0" font-size="9.9" textLength="31.0" lengthAdjust="spacingAndGlyphs">2:45am</text>
<circle cx="274.5" cy="503" r="4.7" fill="#ffffc8" stroke="#8c8c80" stroke-width="0.8"/>
<text x="281.0" y="507.0" font-size="9.9" textLength="31.0" lengthAdjust="spacingAndGlyphs">3:49am</text>
<circle cx="354.1" cy="503" r="4.7" fill="#ffffc8" stroke="#8c8c80" stroke-width="0.8"/>
<text x="360.5" y="507.0" font-size="9.9" textLength="31.0" lengthAdjust="spacingAndGlyphs">4:46am</text>
<circle cx="433.2" cy="503" r="4.7" fill="#ffffc8" stroke="#8c8c80" stroke-width="0.8"/>
<text x="440.0" y="507.0" font-size="9.9" textLength="31.0" lengthAdjust="spacingAndGlyphs">5:33am</text>
<circle cx="511.9" cy="503" r="4.7" fill="#ffffc8" stroke="#8c8c80" stroke-width="0.8"/>
<text x="518.5" y="507.0" font-size="9.9" textLength="31.0" lengthAdjust="spacingAndGlyphs">6:13am</text>
<circle cx="590.3" cy="503" r="4.7" fill="#ffffc8" stroke="#8c8c80" stroke-width="0.8"/>
<text x="597.0" y="507.0" font-size="9.9" textLength="31.0" lengthAdjust="spacingAndGlyphs">6:46am</text>
<circle cx="668.4" cy="503" r="4.7" fill="#ffffc8" stroke="#8c8c80" stroke-width="0.8"/>
<text x="675.0" y="507.0" font-size="9.9" textLength="31.0" lengthAdjust="spacingAndGlyphs">7:15am</text>
<circle cx="146.2" cy="516.6" r="4.7" fill="#c8c8b6" stroke="#808078" stroke-width="0.8"/>
<text x="153.0" y="520.0" font-size="9.9" textLength="36.0" lengthAdjust="spacingAndGlyphs">11:36am</text>
<circle cx="225.7" cy="516.6" r="4.7" fill="#c8c8b6" stroke="#808078" stroke-width="0.8"/>
<text x="232.5" y="520.0" font-size="9.9" textLength="36.0" lengthAdjust="spacingAndGlyphs">12:31pm</text>
<circle cx="305.6" cy="516.6" r="4.7" fill="#c8c8b6" stroke="#808078" stroke-width="0.8"/>
<text x="312.0" y="520.0" font-size="9.9" textLength="31.0" lengthAdjust="spacingAndGlyphs">1:33pm</text>
<circle cx="385.7" cy="516.6" r="4.7" fill="#c8c8b6" stroke="#808078" stroke-width="0.8"/>
<text x="392.5" y="520.0" font-size="9.9" textLength="31.0" lengthAdjust="spacingAndGlyphs">2:40pm</text>
<circle cx="465.9" cy="516.6" r="4.7" fill="#c8c8b6" stroke="#808078" stroke-width="0.8"/>
<text x="472.5" y="520.0" font-size="9.9" textLength="31.0" lengthAdjust="spacingAndGlyphs">3:48pm</text>
<circle cx="546.1" cy="516.6" r="4.7" fill="#c8c8b6" stroke="#808078" stroke-width="0.8"/>
<text x="552.5" y="520.0" font-size="9.9" textLength="31.0" lengthAdjust="spacingAndGlyphs">4:55pm</text>
<circle cx="626.0" cy="516.6" r="4.7" fill="#c8c8b6" stroke="#808078" stroke-width="0.8"/>
<text x="632.5" y="520.0" font-size="9.9" textLength="31.0" lengthAdjust="spacingAndGlyphs">5:58pm</text>
<text x="566.0" y="533.0" font-size="9.9" textLength="81.8" lengthAdjust="spacingAndGlyphs">New Moon | 2:07pm</text>
</svg></body></html>
